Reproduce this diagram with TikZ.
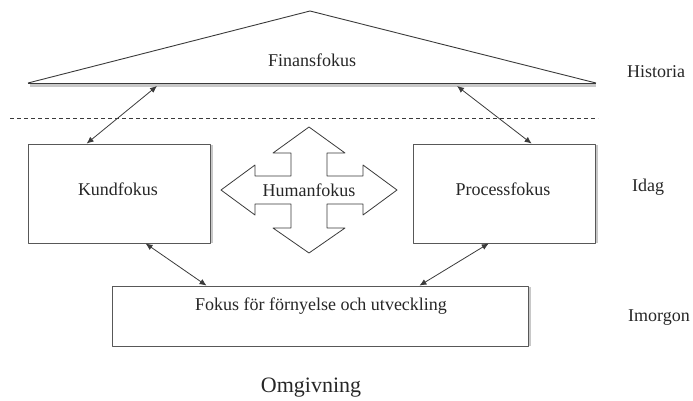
\documentclass[tikz,border=0pt]{standalone}
\usepackage{fontspec}
\setmainfont{Liberation Serif}
\usepackage{tikz}
\usetikzlibrary{arrows.meta}
\definecolor{ink}{HTML}{3A3A3A}
\definecolor{greyshade}{HTML}{C8C8C8}
\tikzset{
  every picture/.style={font=\fontsize{18}{20}\selectfont, line join=round, >=Latex},
  box/.style={draw=ink!85, line width=0.8pt, rectangle, inner sep=0pt},
  boxshade/.style={draw=greyshade, line width=2.4pt},
  link/.style={arrows={Latex[length=7pt,width=6pt]-Latex[length=7pt,width=6pt]}, ink, line width=0.8pt},
  lbl/.style={text=black!85, inner sep=0pt},
}

\begin{document}
\begin{tikzpicture}[x=1pt,y=-1pt]
\useasboundingbox (0,0) rectangle (693,400);
% finansfokus triangle
\draw[ink, line width=0.9pt](28,83)--(310,11)--(596,83);
\draw[greyshade, line width=2.6pt](30,85.5)--(596,85.5);
\draw[ink, line width=0.8pt](28,83.5)--(596,83.5);
\node[lbl] (finans) at (312,60) {Finansfokus};
\coordinate (finL) at (157,86);
\coordinate (finR) at (457,86);
\draw[ink, dash pattern=on 4pt off 3pt, line width=0.7pt](10,118)--(598,118);
% boxes
\draw[boxshade](211.5,145)--(211.5,243);
\draw[boxshade](596.5,145)--(596.5,243);
\draw[boxshade](529.5,287)--(529.5,346);
\node[box, minimum width=182pt, minimum height=99pt] (kund) at (119,193.5) {};
\node[box, minimum width=182pt, minimum height=99pt] (process) at (504,193.5) {};
\node[box, minimum width=416pt, minimum height=60pt] (fornyelse) at (320,316) {};
\node[lbl] (kundtxt) at (118,189) {Kundfokus};
\node[lbl] (processtxt) at (503,189) {Processfokus};
\node[lbl] (fornyelsetxt) at (321,306) {Fokus för förnyelse och utveckling};
% humanfokus cross
\draw[ink, line width=0.8pt, shift={(309,190)}]
  (0,-63)--(36,-37)--(18,-37)--(18,-14)--(54,-14)--(54,-25)--(88,0)--(54,25)--(54,14)--(18,14)
  --(18,38)--(36,38)--(0,63)--(-36,38)--(-18,38)--(-18,14)--(-54,14)--(-54,25)--(-88,0)
  --(-54,-25)--(-54,-14)--(-18,-14)--(-18,-37)--(-36,-37)--cycle;
\node[lbl] (human) at (309,190) {Humanfokus};
% links
\draw[link](finL)--(kund.123);
\draw[link](finR)--(process.61);
\draw[link](kund.-62)--(fornyelse.165);
\draw[link](process.253)--(fornyelse.17);
% time labels
\node[lbl] (historia) at (656,72) {Historia};
\node[lbl] (idag) at (648,187) {Idag};
\node[lbl] (imorgon) at (659,318) {Imorgon};
\node[lbl, font=\fontsize{22}{24}\selectfont] (omgivning) at (311,388) {Omgivning};
\end{tikzpicture}
\end{document}
